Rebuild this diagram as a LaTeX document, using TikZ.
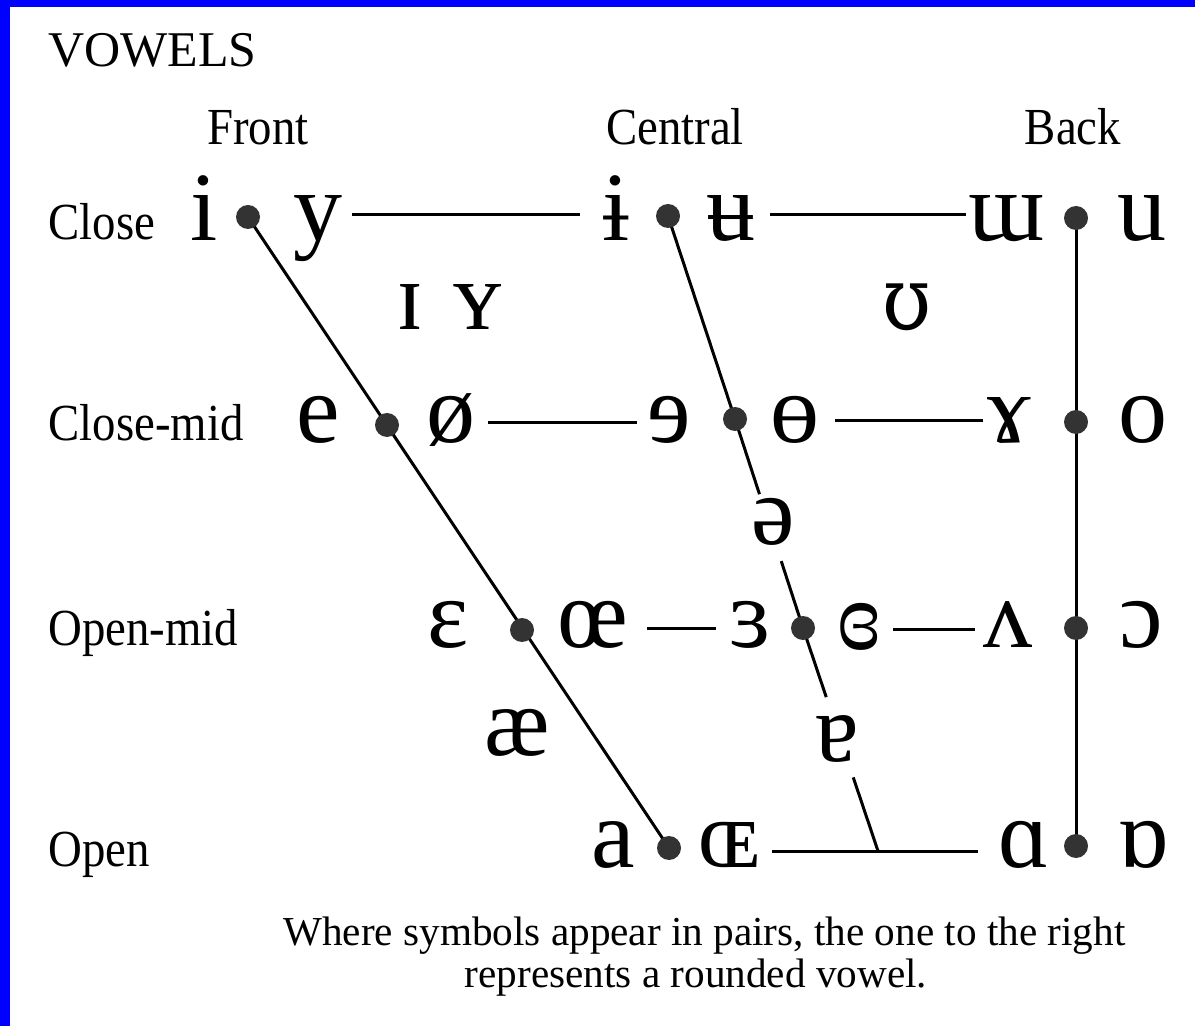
\documentclass[tikz,border=0pt]{standalone}
\usepackage{fontspec}
\setmainfont{Liberation Serif}
\newfontfamily\lblfont[FakeStretch=0.9]{Liberation Serif}
\newfontfamily\altipa[FakeStretch=0.9]{DejaVu Serif}
\usetikzlibrary{calc}
\begin{document}
\begin{tikzpicture}[x=0.5pt,y=-0.5pt,
  sym/.style={font=\fontsize{49pt}{49pt}\selectfont, inner sep=0pt, anchor=base},
  lbl/.style={font=\lblfont\fontsize{26pt}{26pt}\selectfont, inner sep=0pt, anchor=base west},
  hdr/.style={lbl, anchor=base},
  note/.style={font=\fontsize{20.6pt}{20.6pt}\selectfont, inner sep=0pt},
  vdot/.style={circle, fill=black!80, draw=none, minimum size=12pt, inner sep=0pt},
  ln/.style={line width=1.5pt, black},
]
\useasboundingbox (0,0) rectangle (1195,1026);
\fill[white] (0,0) rectangle (1195,1026);
\fill[blue] (0,0) rectangle (1195,7);
\fill[blue] (0,0) rectangle (10,1026);

% titles and row labels
\node[lbl, font=\fontsize{25pt}{25pt}\selectfont] (title) at (48,67) {VOWELS};
\node[hdr] (front) at (258,145) {Front};
\node[hdr] (central) at (675,145) {Central};
\node[hdr] (back) at (1073,145) {Back};
\node[lbl] (close) at (48,240) {Close};
\node[lbl] (closemid) at (48,441) {Close-mid};
\node[lbl] (openmid) at (48,646) {Open-mid};
\node[lbl] (open) at (48,866) {Open};

% dot positions
\coordinate (f1) at (248,217);
\coordinate (f2) at (387,425);
\coordinate (f3) at (522,630);
\coordinate (f4) at (669,848);
\coordinate (c1) at (668,216);
\coordinate (c2) at (735,419);
\coordinate (c3) at (803,628);
\coordinate (c4) at (878,851);
\coordinate (b1) at (1076,218);
\coordinate (b2) at (1076,422);
\coordinate (b3) at (1076,628);
\coordinate (b4) at (1076,846);

% horizontal line ends
\coordinate (h1a) at (352,215); \coordinate (h1b) at (580,215);
\coordinate (h2a) at (770,215); \coordinate (h2b) at (966,215);
\coordinate (h3a) at (488,423); \coordinate (h3b) at (637,423);
\coordinate (h4a) at (835,421); \coordinate (h4b) at (983,421);
\coordinate (h5a) at (647,629); \coordinate (h5b) at (716,629);
\coordinate (h6a) at (893,630); \coordinate (h6b) at (975,630);
\coordinate (h7a) at (772,851); \coordinate (h7b) at (978,851);

% lines
\draw[ln] (f1) -- (f4);
\draw[ln] (b1) -- (b4);
\draw[ln] (c1) -- (c2) -- ($(c2)!0.36!(c3)$);
\draw[ln] ($(c2)!0.68!(c3)$) -- (c3) -- ($(c3)!0.31!(c4)$);
\draw[ln] ($(c3)!0.67!(c4)$) -- (c4);
\draw[ln] (h1a) -- (h1b);
\draw[ln] (h2a) -- (h2b);
\draw[ln] (h3a) -- (h3b);
\draw[ln] (h4a) -- (h4b);
\draw[ln] (h5a) -- (h5b);
\draw[ln] (h6a) -- (h6b);
\draw[ln] (h7a) -- (h7b);

% dots
\foreach \d in {f1,f2,f3,f4,c1,c2,c3,b1,b2,b3,b4}
  \node[vdot] (dot\d) at (\d) {};

% close row
\node[sym] (vi) at (204,241) {i};
\node[sym] (vy) at (318,241) {y};
\node[sym] (vib) at (616,241) {ɨ};
\node[sym] (vub) at (731,241) {ʉ};
\node[sym] (vmw) at (1007,241) {ɯ};
\node[sym] (vu) at (1142,241) {u};
% near-close
\node[sym] (vsi) at (410,330) {ɪ};
\node[sym] (vsy) at (478,330) {ʏ};
\node[sym, font=\altipa\fontsize{44pt}{44pt}\selectfont] (vup) at (907,330) {ʊ};
% close-mid
\node[sym] (ve) at (318,443) {e};
\node[sym] (voe) at (451,443) {ø};
\node[sym] (vre) at (669,443) {ɘ};
\node[sym] (vbo) at (795,443) {ɵ};
\node[sym] (vga) at (1009,443) {ɤ};
\node[sym] (vo) at (1143,443) {o};
% mid
\node[sym] (vsc) at (773,545) {ə};
% open-mid
\node[sym] (veps) at (448,647) {ɛ};
\node[sym] (voel) at (593,647) {œ};
\node[sym] (vrep) at (750,647) {ɜ};
\node[sym] (vcre) at (859,650) {ɞ};
\node[sym] (vwv) at (1008,647) {ʌ};
\node[sym] (voo) at (1141,647) {ɔ};
% near-open
\node[sym] (vae) at (517,755) {æ};
\node[sym] (vta) at (837,762) {ɐ};
% open
\node[sym] (va) at (613,867) {a};
\node[sym] (voec) at (729,867) {ɶ};
\node[sym] (vsa) at (1024,867) {ɑ};
\node[sym] (vta2) at (1143,867) {ɒ};

% note
\node[note, anchor=base west] (note1) at (283,945) {Where symbols appear in pairs, the one to the right};
\node[note, anchor=base] (note2) at (696,987) {represents a rounded vowel.};
\end{tikzpicture}
\end{document}
